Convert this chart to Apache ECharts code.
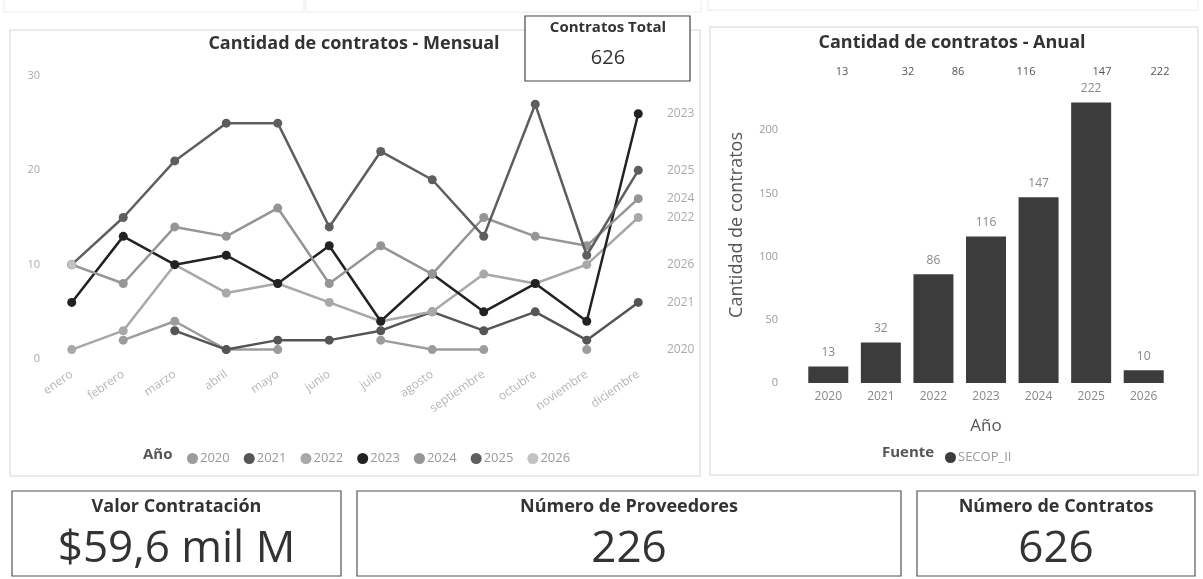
<!DOCTYPE html>
<html><head><meta charset="utf-8">
<script src="https://cdn.jsdelivr.net/npm/echarts@6/dist/echarts.min.js"></script>
<style>html,body{margin:0;padding:0;background:#fff}#c{width:1203px;height:579px}</style>
</head><body><div id="c"></div>
<script>
const months = ['enero','febrero','marzo','abril','mayo','junio','julio','agosto','septiembre','octubre','noviembre','diciembre'];
const lineYears = ['2020','2021','2022','2023','2024','2025','2026'];
const s2020 = [null,2,4,1,1,null,2,1,1,null,1,null];
const s2021 = [null,null,3,1,2,2,3,5,3,5,2,6];
const s2022 = [1,3,10,7,8,6,4,5,9,8,10,15];
const s2023 = [6,13,10,11,8,12,4,9,5,8,4,26];
const s2024 = [10,8,14,13,16,8,12,9,15,13,12,17];
const s2025 = [10,15,21,25,25,14,22,19,13,27,11,20];
const s2026 = [10,null,null,null,null,null,null,null,null,null,null,null];
const lineColors = ['#9c9c9c','#555555','#a8a8a8','#222222','#959595','#5e5e5e','#c2c2c2'];
const lineTicks = [0,10,20,30];

const barYears = ['2020','2021','2022','2023','2024','2025','2026'];
const barValues = [13,32,86,116,147,222,10];
const barTicks = [0,50,100,150,200];
const strayTopLabels = ['13','32','86','116','147','222'];

const cardTitles = ['Valor Contratación','Número de Proveedores','Número de Contratos'];
const cardValues = ['$59,6 mil M','226','626'];
const totalCardTitle = 'Contratos Total';
const totalCardValue = '626';

const FONT = '"Open Sans", "DejaVu Sans", sans-serif';
const allSeries = [s2020,s2021,s2022,s2023,s2024,s2025,s2026];

const chart = echarts.init(document.getElementById('c'));

const graphics = [];
// faint top strip
graphics.push({type:'rect',shape:{x:4,y:-2,width:300,height:14},style:{fill:'#fff',stroke:'#ececec'}});
graphics.push({type:'rect',shape:{x:306,y:-2,width:395,height:14},style:{fill:'#fff',stroke:'#ececec'}});
graphics.push({type:'rect',shape:{x:708,y:-2,width:490,height:12},style:{fill:'#fff',stroke:'#ececec'}});
// panels
graphics.push({type:'rect',z:-1,shape:{x:10,y:30,width:690,height:446},style:{fill:'#fff',stroke:'#e4e4e4',lineWidth:1.5}});
graphics.push({type:'rect',z:-1,shape:{x:710,y:27,width:488,height:448},style:{fill:'#fff',stroke:'#e4e4e4',lineWidth:1.5}});
// titles
graphics.push({type:'text',style:{text:'Cantidad de contratos - Mensual',x:354,y:44,align:'center',verticalAlign:'middle',font:'bold 18px '+FONT,fill:'#333'}});
graphics.push({type:'text',style:{text:'Cantidad de contratos - Anual',x:952,y:43,align:'center',verticalAlign:'middle',font:'bold 18px '+FONT,fill:'#333'}});
// total card
graphics.push({type:'rect',shape:{x:525,y:16,width:165,height:65},style:{fill:'#fff',stroke:'#444',lineWidth:1.2}});
graphics.push({type:'text',style:{text:totalCardTitle,x:608,y:28,align:'center',verticalAlign:'middle',font:'bold 15px "Liberation Sans Narrow", '+FONT,fill:'#333'}});
graphics.push({type:'text',style:{text:totalCardValue,x:608,y:58,align:'center',verticalAlign:'middle',font:'20px '+FONT,fill:'#333'}});
// legend title for line chart
graphics.push({type:'text',style:{text:'Año',x:143,y:455,align:'left',verticalAlign:'middle',font:'bold 15px '+FONT,fill:'#555'}});
// legend title bar chart
graphics.push({type:'text',style:{text:'Fuente',x:882,y:453,align:'left',verticalAlign:'middle',font:'bold 15px '+FONT,fill:'#555'}});
// stray labels at top of bar panel
const strayX = [842,908,958,1026,1102,1160];
strayTopLabels.forEach((t,i)=>graphics.push({type:'text',style:{text:t,x:strayX[i],y:72,align:'center',verticalAlign:'middle',font:'11px '+FONT,fill:'#555'}}));
// bottom cards
const cardBoxes = [[12,491,329,85],[357,491,544,85],[917,491,278,85]];
cardBoxes.forEach((b,i)=>{
  graphics.push({type:'rect',shape:{x:b[0],y:b[1],width:b[2],height:b[3]},style:{fill:'#fff',stroke:'#555',lineWidth:1.2}});
  graphics.push({type:'text',style:{text:cardTitles[i],x:b[0]+b[2]/2,y:507,align:'center',verticalAlign:'middle',font:'bold 18px '+FONT,fill:'#333'}});
  graphics.push({type:'text',style:{text:cardValues[i],x:b[0]+b[2]/2,y:549,align:'center',verticalAlign:'middle',font:'44px '+FONT,fill:'#333'}});
});

const option = {
  animation:false,
  backgroundColor:'#fff',
  grid:[
    {left:46,top:76,width:618,height:283,containLabel:false},
    {left:802,top:67,width:368,height:316,containLabel:false}
  ],
  xAxis:[
    {type:'category',gridIndex:0,data:months,boundaryGap:true,axisLine:{show:false},axisTick:{show:false},
     axisLabel:{rotate:35,color:'#b5b5b5',fontFamily:FONT,fontSize:12,margin:14,interval:0}},
    {type:'category',gridIndex:1,data:barYears,axisLine:{show:false},axisTick:{show:false},
     name:'Año',nameLocation:'middle',nameGap:35,nameTextStyle:{color:'#555',fontSize:17,fontFamily:FONT},
     axisLabel:{color:'#888',fontFamily:FONT,fontSize:12,margin:8}}
  ],
  yAxis:[
    {type:'value',gridIndex:0,min:lineTicks[0],max:lineTicks[lineTicks.length-1],interval:10,splitLine:{show:false},
     axisLabel:{color:'#aaa',fontFamily:FONT,fontSize:11,margin:6}},
    {type:'value',gridIndex:1,min:0,max:250,interval:50,splitLine:{show:false},
     axisLabel:{color:'#999',fontFamily:FONT,fontSize:11,margin:24,showMaxLabel:false},
     name:'Cantidad de contratos',nameLocation:'middle',nameGap:56,nameRotate:90,
     nameTextStyle:{color:'#555',fontSize:18,fontFamily:FONT}}
  ],
  legend:[
    {data:lineYears,left:182,top:447,itemWidth:11,itemHeight:11,itemGap:14,icon:'circle',
     textStyle:{color:'#999',fontSize:13,fontFamily:FONT,padding:[0,0,0,-3]}},
    {data:['SECOP_II'],left:940,top:446,itemWidth:11,itemHeight:11,icon:'circle',
     textStyle:{color:'#999',fontSize:13,fontFamily:FONT,padding:[0,0,0,-3]}}
  ],
  series: lineYears.map((y,i)=>({
    name:y,type:'line',xAxisIndex:0,yAxisIndex:0,data:allSeries[i],connectNulls:false,
    symbol:'circle',symbolSize:9,showAllSymbol:true,
    lineStyle:{width:2.5,color:lineColors[i]},itemStyle:{color:lineColors[i]},z:2+i
  })).concat([{
    name:'SECOP_II',type:'bar',xAxisIndex:1,yAxisIndex:1,data:barValues,barWidth:40,
    itemStyle:{color:'#3c3c3c'},
    label:{show:true,position:'top',color:'#888',fontSize:12,fontFamily:FONT,distance:8}
  }]),
  graphic:graphics
};
chart.setOption(option);

// series end labels at right edge of the monthly chart
const endGraphics = graphics.slice();
lineYears.forEach((y,i)=>{
  const d = allSeries[i];
  let last = null;
  for (let k=d.length-1;k>=0;k--){ if (d[k]!==null){ last=d[k]; break; } }
  const py = chart.convertToPixel({yAxisIndex:0}, last);
  endGraphics.push({type:'text',style:{text:y,x:667,y:py,align:'left',verticalAlign:'middle',font:'12px '+FONT,fill:'#aaa'}});
});
chart.setOption({graphic:endGraphics});
</script></body></html>
